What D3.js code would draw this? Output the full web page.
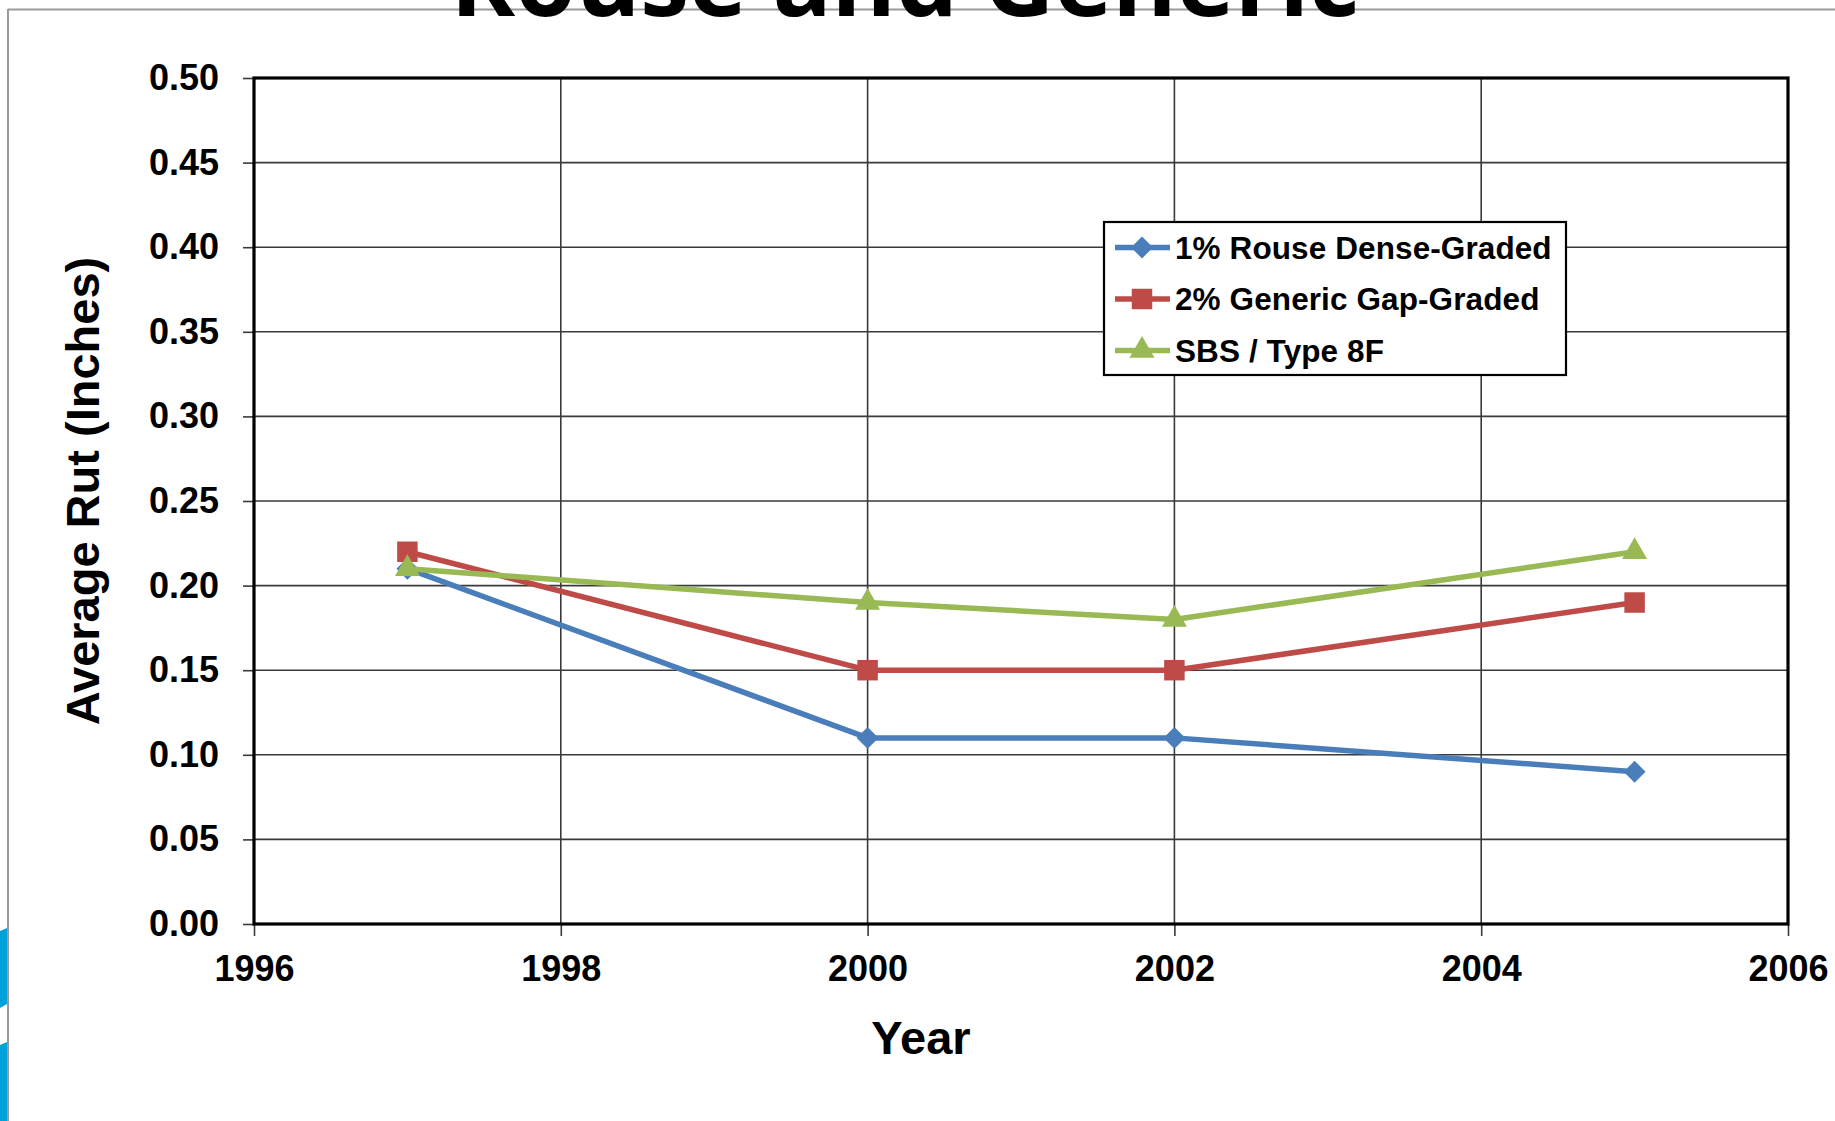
<!DOCTYPE html>
<html>
<head>
<meta charset="utf-8">
<script src="https://cdn.jsdelivr.net/npm/d3@7/dist/d3.min.js"></script>
<style>
  html, body { margin: 0; padding: 0; background: #fff; }
  svg { display: block; }
  .tick text { font-family: "Liberation Sans", Arial, sans-serif; font-weight: bold; fill: #000; }
</style>
</head>
<body>
<svg id="chart" width="1835" height="1121"></svg>
<script>
// Rut depth survey values by year
const years = [1997, 2000, 2002, 2005];
const rouseDense = [0.21, 0.11, 0.11, 0.09];
const genericGap = [0.22, 0.15, 0.15, 0.19];
const sbsType8F = [0.21, 0.19, 0.18, 0.22];

const seriesNames = ["1% Rouse Dense-Graded", "2% Generic Gap-Graded", "SBS / Type 8F"];
const seriesColors = ["#4A7EBB", "#BE4B48", "#98B954"];
const seriesSymbols = ["diamond", "square", "triangle"];

const xTicks = [1996, 1998, 2000, 2002, 2004, 2006];
const yTicks = [0, 0.05, 0.10, 0.15, 0.20, 0.25, 0.30, 0.35, 0.40, 0.45, 0.50];

const titleText = "Rouse and Generic";
const xTitle = "Year";
const yTitle = "Average Rut (Inches)";

const series = [rouseDense, genericGap, sbsType8F].map((vals, i) => ({
  name: seriesNames[i],
  color: seriesColors[i],
  symbol: seriesSymbols[i],
  points: years.map((yr, j) => ({ x: yr, y: vals[j] }))
}));

const svg = d3.select("#chart");
const W = 1835, H = 1121;
const plot = { left: 254, right: 1788, top: 78, bottom: 924 };

const x = d3.scaleLinear().domain([1996, 2006]).range([plot.left, plot.right]);
const y = d3.scaleLinear().domain([0, 0.5]).range([plot.bottom, plot.top]);

// slide frame: thin grey rule along top and left, blue accents bottom-left
svg.append("line").attr("x1", 8).attr("x2", W).attr("y1", 9.5).attr("y2", 9.5)
  .attr("stroke", "#9a9a9a").attr("stroke-width", 2);
svg.append("line").attr("x1", 8).attr("x2", 8).attr("y1", 9).attr("y2", H)
  .attr("stroke", "#9a9a9a").attr("stroke-width", 2);
svg.append("polygon").attr("points", "0,931 7,928 7,1004 0,1008").attr("fill", "#00A3D9");
svg.append("polygon").attr("points", "0,1045 7,1042 7,1121 0,1121").attr("fill", "#00A3D9");

// slide title (partly above the visible area)
svg.append("text")
  .attr("x", 905).attr("y", 16)
  .attr("text-anchor", "middle")
  .attr("font-family", "'Open Sans', sans-serif")
  .attr("font-weight", "bold")
  .attr("font-size", 98)
  .attr("fill", "#000")
  .text(titleText);

// gridlines
const grid = svg.append("g");
grid.selectAll("line.h").data(yTicks).join("line")
  .attr("x1", plot.left).attr("x2", plot.right)
  .attr("y1", d => y(d)).attr("y2", d => y(d))
  .attr("stroke", "#3a3a3a").attr("stroke-width", 1.6);
grid.selectAll("line.v").data(xTicks).join("line")
  .attr("y1", plot.top).attr("y2", plot.bottom)
  .attr("x1", d => x(d)).attr("x2", d => x(d))
  .attr("stroke", "#3a3a3a").attr("stroke-width", 1.6);

// axes
const yAxis = d3.axisLeft(y).tickValues(yTicks).tickFormat(d3.format(".2f"))
  .tickSize(11).tickPadding(24);
const gy = svg.append("g").attr("transform", `translate(${plot.left},0)`).call(yAxis);
gy.select(".domain").remove();
gy.selectAll(".tick line").attr("stroke", "#3a3a3a").attr("stroke-width", 1.6);
gy.selectAll(".tick text").style("font-size", "36px");

const xAxis = d3.axisBottom(x).tickValues(xTicks).tickFormat(d3.format("d"))
  .tickSize(12).tickPadding(19);
const gx = svg.append("g").attr("transform", `translate(0,${plot.bottom})`).call(xAxis);
gx.select(".domain").remove();
gx.selectAll(".tick line").attr("stroke", "#3a3a3a").attr("stroke-width", 1.6);
gx.selectAll(".tick text").style("font-size", "36px");

// plot border
svg.append("rect")
  .attr("x", plot.left).attr("y", plot.top)
  .attr("width", plot.right - plot.left).attr("height", plot.bottom - plot.top)
  .attr("fill", "none").attr("stroke", "#000").attr("stroke-width", 3.2);

// axis titles
svg.append("text")
  .attr("x", 921).attr("y", 1054)
  .attr("text-anchor", "middle")
  .attr("font-family", "'Liberation Sans', Arial, sans-serif")
  .attr("font-weight", "bold").attr("font-size", 47)
  .text(xTitle);
svg.append("text")
  .attr("transform", "translate(99,491) rotate(-90)")
  .attr("text-anchor", "middle")
  .attr("font-family", "'Liberation Sans', Arial, sans-serif")
  .attr("font-weight", "bold").attr("font-size", 47)
  .text(yTitle);

// marker shapes
function symbolPath(kind) {
  if (kind === "square") return d3.symbol(d3.symbolSquare, 420)();
  if (kind === "triangle") return d3.symbol(d3.symbolTriangle, 270)();
  return d3.symbol(d3.symbolSquare, 240)();
}
function symbolRotate(kind) { return kind === "diamond" ? " rotate(45)" : ""; }

const line = d3.line().x(d => x(d.x)).y(d => y(d.y));

const sg = svg.append("g").selectAll("g").data(series).join("g");
sg.append("path")
  .attr("d", d => line(d.points))
  .attr("fill", "none")
  .attr("stroke", d => d.color)
  .attr("stroke-width", 5.5)
  .attr("stroke-linejoin", "round");
sg.each(function (s) {
  d3.select(this).selectAll("path.m").data(s.points).join("path")
    .attr("class", "m")
    .attr("d", symbolPath(s.symbol))
    .attr("transform", d => `translate(${x(d.x)},${y(d.y)})` + symbolRotate(s.symbol))
    .attr("fill", s.color);
});

// legend
const legend = svg.append("g");
legend.append("rect")
  .attr("x", 1104).attr("y", 222).attr("width", 462).attr("height", 153)
  .attr("fill", "#fff").attr("stroke", "#000").attr("stroke-width", 2.2);
const rows = legend.selectAll("g.row").data(series).join("g")
  .attr("class", "row")
  .attr("transform", (d, i) => `translate(0,${247.5 + i * 51.5})`);
rows.append("line")
  .attr("x1", 1115).attr("x2", 1170).attr("y1", 0).attr("y2", 0)
  .attr("stroke", d => d.color).attr("stroke-width", 5.5);
rows.append("path")
  .attr("d", d => symbolPath(d.symbol))
  .attr("transform", d => "translate(1142,0)" + symbolRotate(d.symbol))
  .attr("fill", d => d.color);
rows.append("text")
  .attr("x", 1175).attr("y", 0).attr("dy", "0.35em")
  .attr("font-family", "'Liberation Sans', Arial, sans-serif")
  .attr("font-weight", "bold").attr("font-size", 31.5)
  .attr("letter-spacing", 0.1)
  .text(d => d.name);
</script>
</body>
</html>
